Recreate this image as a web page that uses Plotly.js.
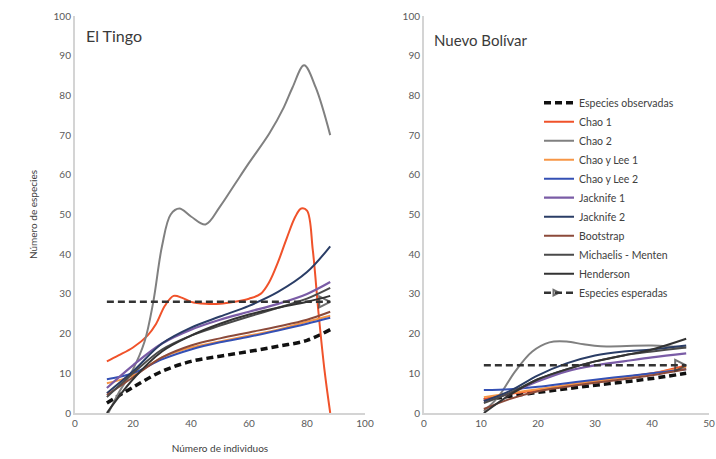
<!DOCTYPE html>
<html>
<head>
<meta charset="utf-8">
<script src="https://cdn.plot.ly/plotly-3.0.1.min.js"></script>
<style>html,body{margin:0;padding:0;background:#fff}#chart{width:716px;height:459px}</style>
</head>
<body>
<div id="chart"></div>
<script>
// ---------- El Tingo (left panel) ----------
const xLeft      = [11, 20, 30, 40, 50, 60, 70, 80, 88];
const obsLeft     = [2.5, 6.5, 10.5, 13, 14.3, 15.5, 16.8, 18.3, 21];
const chaoLee1Left = [7.5, 9.5, 14, 16.5, 18, 19.5, 21, 23, 24.5];
const chaoLee2Left = [8.5, 10, 13.5, 16, 17.8, 19.2, 20.8, 22.5, 24];
const bootLeft    = [4.5, 9, 14, 17, 18.8, 20.3, 21.8, 23.5, 25.5];
const jack1Left   = [6.3, 12, 17.5, 21, 23.5, 25.5, 27.5, 30, 33];
const jack2Left   = [5, 10.5, 17.5, 21.5, 24.3, 27, 30.5, 35.5, 42];
const mmLeft      = [4, 10, 16, 19.5, 22, 24.3, 26.5, 28.8, 31.5];
const hendLeft    = [0, 8.5, 15.5, 19.5, 22.5, 24.8, 26.5, 28, 29.5];
const xChao1Left  = [11, 15, 20, 25, 28, 31, 34, 37, 40, 45, 50, 55, 60, 64, 67, 70, 73, 76, 78, 80, 82, 84, 86, 88];
const chao1Left   = [13, 14.5, 16.5, 19.5, 22.5, 27, 29.5, 29, 28, 27.5, 27.5, 28, 28.8, 30, 33, 38, 44, 49.5, 51.5, 51, 41, 25, 11, 0];
const xChao2Left  = [11.5, 15, 20, 24, 27, 30, 33, 36, 40, 45, 50, 55, 60, 67, 72, 75, 79, 83, 88];
const chao2Left   = [0, 5, 11, 18, 28, 42, 50, 51.5, 49.5, 47.5, 52, 57.5, 63, 70.4, 77, 82, 87.6, 82, 70];
const xExpLeft    = [11, 88];
const expLeft     = [28, 28];

// ---------- Nuevo Bolívar (right panel) ----------
const xRight       = [10.5, 15, 20, 25, 30, 35, 40, 46];
const obsRight     = [3.3, 4.2, 5.2, 6.1, 7, 7.8, 8.7, 10];
const chao1Right   = [3.5, 4.8, 5.8, 7, 8, 9, 10, 12];
const chaoLee1Right = [4, 5, 6, 7, 8, 9, 10, 11.5];
const chaoLee2Right = [5.8, 6, 6.6, 7.5, 8.4, 9.2, 10, 11];
const bootRight    = [1, 3.5, 5.5, 6.6, 7.6, 8.5, 9.5, 11];
const jack1Right   = [3, 5, 8, 10.5, 12, 13, 14, 15];
const jack2Right   = [3, 5.5, 9.5, 12.5, 14.5, 15.5, 16, 17];
const mmRight      = [2.5, 5, 8.5, 11, 13, 14.5, 15.5, 16.5];
const hendRight    = [0, 4.5, 8.5, 11, 13, 14.5, 16, 18.7];
const xChao2Right  = [10.5, 13, 16, 19, 22, 25, 28, 31, 40, 46];
const chao2Right   = [0.5, 4, 10.5, 15.5, 17.8, 18, 17.3, 16.8, 17, 16.5];
const xExpRight    = [10.5, 46];
const expRight     = [12, 12];

const names = ['Especies observadas','Chao 1','Chao 2','Chao y Lee 1','Chao y Lee 2','Jacknife 1','Jacknife 2','Bootstrap','Michaelis - Menten','Henderson','Especies esperadas'];
const panelTitles = ['El Tingo', 'Nuevo Bolívar'];
const yTitle = 'Número de especies';
const xTitle = 'Número de individuos';

const styles = {
  'Especies observadas': {color:'#111111', width:3.5, dash:'7px,4px'},
  'Chao 1': {color:'#f0522a', width:2},
  'Chao 2': {color:'#808080', width:2},
  'Chao y Lee 1': {color:'#f79646', width:2},
  'Chao y Lee 2': {color:'#3450b4', width:2},
  'Jacknife 1': {color:'#7a5ca6', width:2.2},
  'Jacknife 2': {color:'#2a3d66', width:2},
  'Bootstrap': {color:'#8c4a3a', width:2},
  'Michaelis - Menten': {color:'#4a4a4a', width:2},
  'Henderson': {color:'#333333', width:2},
  'Especies esperadas': {color:'#333333', width:2.5, dash:'7px,4px'}
};

const leftData = {
  'Especies observadas': [xLeft, obsLeft],
  'Chao 1': [xChao1Left, chao1Left],
  'Chao 2': [xChao2Left, chao2Left],
  'Chao y Lee 1': [xLeft, chaoLee1Left],
  'Chao y Lee 2': [xLeft, chaoLee2Left],
  'Jacknife 1': [xLeft, jack1Left],
  'Jacknife 2': [xLeft, jack2Left],
  'Bootstrap': [xLeft, bootLeft],
  'Michaelis - Menten': [xLeft, mmLeft],
  'Henderson': [xLeft, hendLeft],
  'Especies esperadas': [xExpLeft, expLeft]
};
const rightData = {
  'Especies observadas': [xRight, obsRight],
  'Chao 1': [xRight, chao1Right],
  'Chao 2': [xChao2Right, chao2Right],
  'Chao y Lee 1': [xRight, chaoLee1Right],
  'Chao y Lee 2': [xRight, chaoLee2Right],
  'Jacknife 1': [xRight, jack1Right],
  'Jacknife 2': [xRight, jack2Right],
  'Bootstrap': [xRight, bootRight],
  'Michaelis - Menten': [xRight, mmRight],
  'Henderson': [xRight, hendRight],
  'Especies esperadas': [xExpRight, expRight]
};

const traces = [];
function addPanel(data, xa, ya, showLeg) {
  names.forEach(n => {
    const s = styles[n];
    const d = data[n];
    const t = {
      x: d[0], y: d[1], name: n, xaxis: xa, yaxis: ya,
      type: 'scatter', showlegend: showLeg, legendrank: names.indexOf(n),
      line: {color: s.color, width: s.width, dash: s.dash || 'solid', shape: 'spline', smoothing: 1},
      mode: 'lines', hoverinfo: 'skip'
    };
    if (n === 'Especies esperadas') {
      t.mode = 'lines+markers';
      t.marker = {symbol: 'arrow-right-open', size: d[0].map((v,i)=> i === d[0].length-1 ? 11 : 0),
                  color: s.color, line: {color: s.color, width: 2}};
    }
    traces.push(t);
  });
}
addPanel(leftData, 'x', 'y', true);
addPanel(rightData, 'x2', 'y2', false);

const tickFont = {family: 'Lato, "Open Sans", sans-serif', size: 10, color: '#5a5a5a'};
const axisCommon = {showgrid: false, zeroline: false, showline: true, linecolor: '#d4d4d4', linewidth: 2,
                    ticks: '', tickfont: tickFont, fixedrange: true};

const layout = {
  width: 716, height: 459,
  margin: {l: 0, r: 0, t: 0, b: 0},
  paper_bgcolor: '#ffffff', plot_bgcolor: '#ffffff',
  font: {family: 'Lato, "Open Sans", sans-serif', color: '#404040'},
  xaxis: Object.assign({}, axisCommon, {domain: [0.1047, 0.5098], range: [0, 100], tickvals: [0,20,40,60,80,100],
          anchor: 'y', title: {text: xTitle, font: {size: 10, color: '#404040'}, standoff: 17}}),
  yaxis: Object.assign({}, axisCommon, {domain: [0.1002, 0.9651], range: [0, 100], dtick: 10, anchor: 'x',
          title: {text: yTitle, font: {size: 10, color: '#404040'}, standoff: 14}}),
  xaxis2: Object.assign({}, axisCommon, {domain: [0.5922, 0.9902], range: [0, 50], dtick: 10, anchor: 'y2'}),
  yaxis2: Object.assign({}, axisCommon, {domain: [0.1002, 0.9651], range: [0, 100], dtick: 10, anchor: 'x2'}),
  showlegend: true,
  legend: {x: 0.7528, y: 0.808, xanchor: 'left', yanchor: 'top', bgcolor: 'rgba(0,0,0,0)',
           font: {size: 10.5, color: '#404040', family: 'Lato, "Open Sans", sans-serif'}, tracegroupgap: 0, itemwidth: 30},
  annotations: [
    {text: panelTitles[0], xref: 'paper', yref: 'paper', x: 84/716, y: 1 - 35/459, xanchor: 'left', yanchor: 'middle',
     showarrow: false, font: {size: 16, color: '#3a3a3a', family: 'Lato, "Open Sans", sans-serif'}},
    {text: panelTitles[1], xref: 'paper', yref: 'paper', x: 432/716, y: 1 - 40/459, xanchor: 'left', yanchor: 'middle',
     showarrow: false, font: {size: 15, color: '#3a3a3a', family: 'Lato, "Open Sans", sans-serif'}}
  ]
};

Plotly.newPlot('chart', traces, layout, {displayModeBar: false, staticPlot: true});
</script>
</body>
</html>
